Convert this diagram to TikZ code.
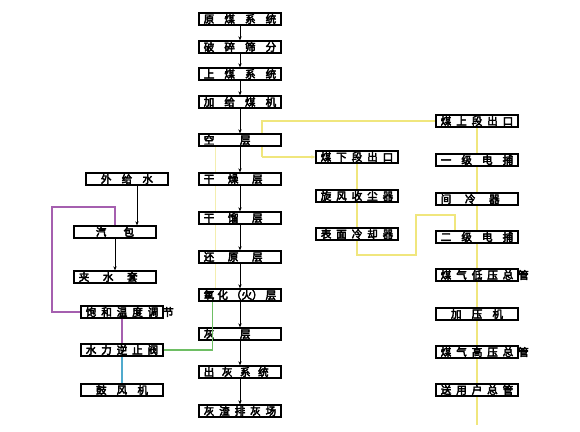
\documentclass[tikz,border=0pt]{standalone}
\usepackage{fontspec}
\setmainfont{Noto Sans CJK SC}[FakeBold=4]
\usetikzlibrary{arrows.meta,backgrounds}
\definecolor{yelc}{RGB}{240,230,125}
\definecolor{yelf}{RGB}{244,238,175}
\definecolor{purc}{RGB}{165,95,175}
\definecolor{grnc}{RGB}{110,190,100}
\definecolor{cyac}{RGB}{80,170,205}
\newcommand\lbl[1]{\makebox[1.81cm][l]{#1}}
\newcommand\lblwide[1]{\lbl{\makebox[2.2cm][l]{#1}}}

\begin{document}
\begin{tikzpicture}[x=0.025cm, y=-0.025cm, font=\fontsize{7.5}{8}\selectfont,
  box/.style={draw, fill=white, line width=0.8pt, inner xsep=0.12cm, inner ysep=0pt,
              minimum height=0.3cm},
  blk/.style={-{Stealth[length=3pt,width=2.4pt]}, line width=0.5pt},
  yel/.style={draw=yelc, line width=0.9pt},
  pur/.style={draw=purc, line width=0.8pt},
]
  \useasboundingbox (0,0) rectangle (580,432);

  % gasifier column
  \node[box] (ymx) at (240,19)  {\lbl{原\hfill 煤\hfill 系\hfill 统}};
  \node[box] (psf) at (240,47)  {\lbl{破\hfill 碎\hfill 筛\hfill 分}};
  \node[box] (smx) at (240,74)  {\lbl{上\hfill 煤\hfill 系\hfill 统}};
  \node[box] (jgm) at (240,102) {\lbl{加\hfill 给\hfill 煤\hfill 机}};
  \node[box] (kc)  at (240,140) {\lbl{空\hfill 层\hfill}};
  \node[box] (gz)  at (240,179) {\lbl{干\hfill 燥\hfill 层\hfill}};
  \node[box] (gl)  at (240,218) {\lbl{干\hfill 馏\hfill 层\hfill}};
  \node[box] (hy)  at (240,257) {\lbl{还\hfill 原\hfill 层\hfill}};
  \node[box] (yh)  at (240,295) {\lbl{氧\hfill 化\hfill （火）\hfill 层}};
  \node[box] (hc)  at (240,334) {\lbl{灰\hfill 层\hfill}};
  \node[box] (chx) at (240,372) {\lbl{出\hfill 灰\hfill 系\hfill 统\hfill}};
  \node[box] (hzp) at (240,411) {\lbl{灰\hfill 渣\hfill 排\hfill 灰\hfill 场}};

  % water and air side
  \node[box] (wgs)   at (127,179) {\lbl{\hfill 外\hfill 给\hfill 水\hfill}};
  \node[box] (qb)    at (115,232) {\lbl{\hfill 汽\hfill 包\hfill}};
  \node[box] (jst)   at (115,277) {\lbl{夹\hfill 水\hfill 套\hfill}};
  \node[box] (bh)    at (122,312) {\lblwide{饱\hfill 和\hfill 温\hfill 度\hfill 调\hfill 节}};
  \node[box] (slzhf) at (122,350) {\lbl{水\hfill 力\hfill 逆\hfill 止\hfill 阀}};
  \node[box] (gfj)   at (122,390) {\lbl{\hfill 鼓\hfill 风\hfill 机\hfill}};

  % lower gas outlet
  \node[box] (xsd) at (357,157) {\lbl{煤\hfill 下\hfill 段\hfill 出\hfill 口}};
  \node[box] (xfs) at (357,196) {\lbl{旋\hfill 风\hfill 收\hfill 尘\hfill 器}};
  \node[box] (bml) at (357,234) {\lbl{表\hfill 面\hfill 冷\hfill 却\hfill 器}};

  % upper gas outlet
  \node[box] (ssd) at (477,121) {\lbl{煤\hfill 上\hfill 段\hfill 出\hfill 口}};
  \node[box] (yjd) at (477,160) {\lbl{一\hfill 级\hfill 电\hfill 捕}};
  \node[box] (jlq) at (477,199) {\lbl{间\hfill 冷\hfill 器\hfill}};
  \node[box] (ejd) at (477,237) {\lbl{二\hfill 级\hfill 电\hfill 捕}};
  \node[box] (dyg) at (477,275) {\lblwide{煤\hfill 气\hfill 低\hfill 压\hfill 总\hfill 管}};
  \node[box] (jyj) at (477,314) {\lbl{\hfill 加\hfill 压\hfill 机\hfill}};
  \node[box] (gyg) at (477,352) {\lblwide{煤\hfill 气\hfill 高\hfill 压\hfill 总\hfill 管}};
  \node[box] (syh) at (477,390) {\lbl{送\hfill 用\hfill 户\hfill 总\hfill 管}};

  \coordinate (kcup) at (262,157);
  \coordinate (yend) at (477,425);
  \coordinate (p1) at (52,207);
  \coordinate (t1) at (416,255);
  \coordinate (t2) at (455,215);

  % coal path
  \draw[blk] (ymx) -- (psf);
  \draw[blk] (psf) -- (smx);
  \draw[blk] (smx) -- (jgm);
  \draw[blk] (jgm) -- (kc);
  \draw[blk] (kc) -- (gz);
  \draw[blk] (gz) -- (gl);
  \draw[blk] (gl) -- (hy);
  \draw[blk] (hy) -- (yh);
  \draw[blk] (yh) -- (hc);
  \draw[blk] (hc) -- (chx);
  \draw[blk] (chx) -- (hzp);

  \draw[blk] ([xshift=0.25cm]wgs.south) -- ([xshift=0.25cm]wgs.south |- qb.north);
  \draw[blk] (qb) -- (jst);

  \draw[pur] (qb.north) |- (p1) |- (bh.west);
  \draw[pur] (bh.south) -- (slzhf.north);
  \draw[draw=cyac, line width=0.8pt] (slzhf.south) -- (gfj.north);
  \draw[draw=grnc, line width=0.8pt] (slzhf.east) -| ([xshift=0.35cm]yh.south west);

  \begin{pgfonlayer}{background}
    \draw[draw=yelf, line width=0.8pt] ([xshift=0.42cm]kc.south west) -- ([xshift=0.42cm]kc.south west |- yh.north);
    \draw[yel] (ssd.west) -| (kcup);
    \draw[yel, -{Stealth[length=3pt,width=2.4pt]}] (kcup) -- (xsd.west);
    \draw[yel] (xsd) -- (bml.south) |- (t1) |- (t2) -- (t2 |- ejd.north);
    \draw[yel] (ssd) -- (yend);
  \end{pgfonlayer}
\end{tikzpicture}
\end{document}
